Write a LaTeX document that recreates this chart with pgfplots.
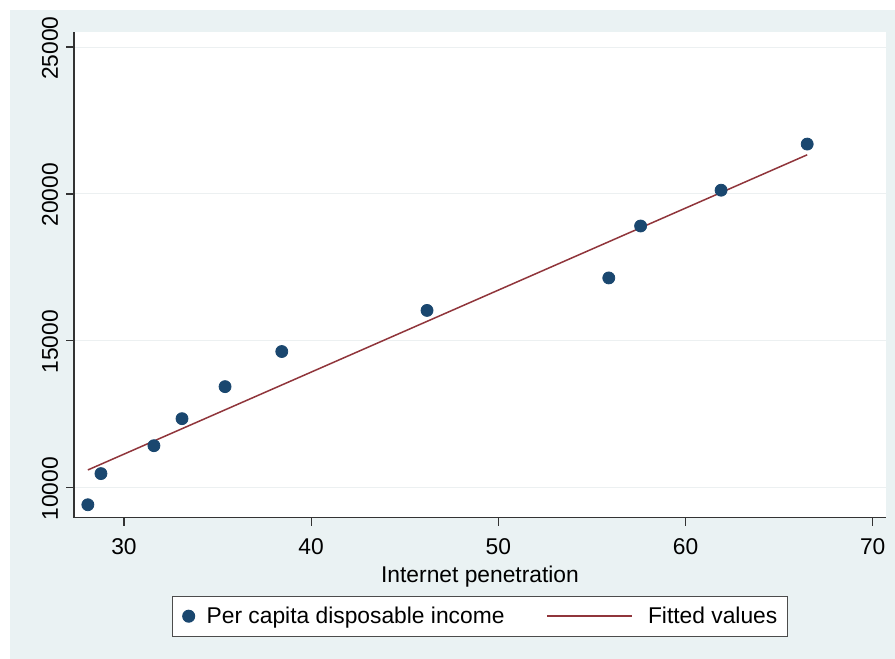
\documentclass[border=0pt]{standalone}
\usepackage{pgfplots}
\pgfplotsset{compat=1.18}
\usepackage{fontspec}
\setmainfont{Liberation Sans}
\definecolor{bg}{RGB}{234,242,243}
\definecolor{stnavy}{RGB}{26,71,111}
\definecolor{stmaroon}{RGB}{144,53,59}
\definecolor{gridc}{RGB}{236,240,241}
\begin{document}
\fontsize{11.4}{13.7}\selectfont
\begin{tikzpicture}
\fill[white] (0,0) rectangle (447.5pt,329.5pt);
\fill[bg] (5pt,0) rectangle (447.5pt,324.5pt);
\begin{axis}[
  at={(37pt,70.65pt)}, anchor=south west,
  scale only axis, width=406pt, height=242.85pt,
  xmin=27.33, xmax=70.71, ymin=8979, ymax=25511,
  axis background/.style={fill=white},
  axis x line*=bottom, axis y line*=left,
  axis line style={black!80, line width=0.6pt},
  tick align=outside, major tick length=4pt,
  tick style={black!80, line width=0.6pt},
  xtick={30,40,50,60,70}, ytick={10000,15000,20000,25000},
  scaled ticks=false,
  /pgf/number format/assume math mode=true,
  /pgf/number format/1000 sep={},
  yticklabel style={rotate=90, anchor=south, xshift=-0.5pt},
  xticklabel style={yshift=-2.5pt},
  ymajorgrids, major grid style={gridc, line width=0.5pt},
  xlabel={Internet penetration},
  xlabel style={yshift=2pt},
  legend columns=2,
  legend style={at={(0.5,-0.162)}, anchor=north, draw=black!70, line width=0.5pt, fill=white,
    inner xsep=5pt, inner ysep=5pt,
    nodes={inner sep=0pt, anchor=base west},
    /tikz/column 1/.style={column sep=6pt},
    /tikz/column 2/.style={column sep=21pt},
    /tikz/column 3/.style={column sep=7.5pt}},
]
\addplot[only marks, mark=*, mark size=3pt, mark options={fill=stnavy, draw=stnavy},
  legend image code/.code={\draw[mark=*, mark size=3pt, fill=stnavy, draw=stnavy] plot coordinates {(0pt,3.6pt)};}]
  coordinates {
  (28.07,9420) (28.77,10480) (31.6,11430) (33.1,12350) (35.4,13440)
  (38.43,14635) (46.19,16034) (55.9,17140) (57.6,18908) (61.9,20126) (66.5,21696)
  };
\addlegendentry{Per capita disposable income}
\addplot[stmaroon, line width=0.75pt,
  legend image code/.code={\draw[stmaroon, line width=0.75pt] (0pt,3.6pt) -- (42.5pt,3.6pt);}]
  coordinates {(28.07,10604) (66.5,21331)};
\addlegendentry{Fitted values}
\end{axis}
\end{tikzpicture}
\end{document}
